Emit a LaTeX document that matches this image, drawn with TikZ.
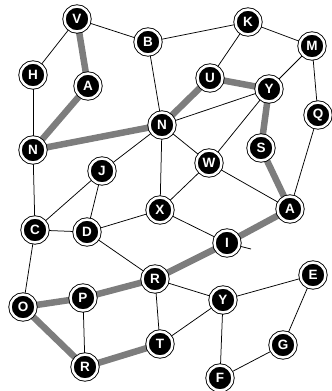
\documentclass[tikz,border=0pt]{standalone}
\usepackage{fontspec}
\setmainfont{Liberation Sans}
\usetikzlibrary{backgrounds}
\definecolor{pathgray}{HTML}{7D7D7D}
\tikzset{
  vtx/.style={circle, draw=black, line width=0.9pt, double=white, double distance=2.5pt,
    fill=black, minimum size=25pt, inner sep=0pt, text=white,
    font=\fontsize{13.5}{13.5}\selectfont\bfseries},
  thin/.style={draw=black, line width=0.75pt},
  thick/.style={draw=pathgray, line width=6.5pt},
}
\begin{document}
\begin{tikzpicture}[x=1pt,y=-1pt]
\useasboundingbox (0,0) rectangle (332,391);
\node[vtx] (V) at (77,19) {V};
\node[vtx] (B) at (148,42) {B};
\node[vtx] (H) at (33,75) {H};
\node[vtx] (A1) at (88,86) {A};
\node[vtx] (N1) at (33,150) {N};
\node[vtx] (N2) at (162,125) {N};
\node[vtx] (J) at (102,171) {J};
\node[vtx] (K) at (248,22) {K};
\node[vtx] (M) at (312,46) {M};
\node[vtx] (U) at (210,78) {U};
\node[vtx] (Y1) at (269,89) {Y};
\node[vtx] (Q) at (318,115) {Q};
\node[vtx] (S) at (261,148) {S};
\node[vtx] (W) at (209,163) {W};
\node[vtx] (C) at (35,230) {C};
\node[vtx] (D) at (87,232) {D};
\node[vtx] (X) at (160,210) {X};
\node[vtx] (R1) at (155,279) {R};
\node[vtx] (O) at (23,307) {O};
\node[vtx] (P) at (83,298) {P};
\node[vtx] (R2) at (85,367) {R};
\node[vtx] (T) at (160,344) {T};
\node[vtx] (A2) at (290,209) {A};
\node[vtx] (I) at (227,243) {I};
\node[vtx] (E) at (313,275) {E};
\node[vtx] (Y2) at (223,300) {Y};
\node[vtx] (G) at (283,345) {G};
\node[vtx] (F) at (220,378) {F};
\coordinate (Istub) at (251,249);
\begin{pgfonlayer}{background}
  \draw[thick] (V) -- (A1) -- (N1) -- (N2) -- (U) -- (Y1) -- (S) -- (A2) -- (I) -- (R1) -- (P) -- (O) -- (R2) -- (T);
  \foreach \a/\b in {V/B, V/H, H/N1, B/N2, B/K, K/U, K/M, M/Y1, M/Q, N2/Y1, Y1/W, Q/A2,
      N2/W, N2/J, N2/X, W/X, W/A2, X/I, X/D, J/C, J/D, N1/C, C/D, C/O, D/R1, P/R2,
      R1/T, R1/Y2, T/Y2, Y2/F, Y2/E, E/G, G/F, I/Istub}
    \draw[thin] (\a) -- (\b);
\end{pgfonlayer}
\end{tikzpicture}
\end{document}
